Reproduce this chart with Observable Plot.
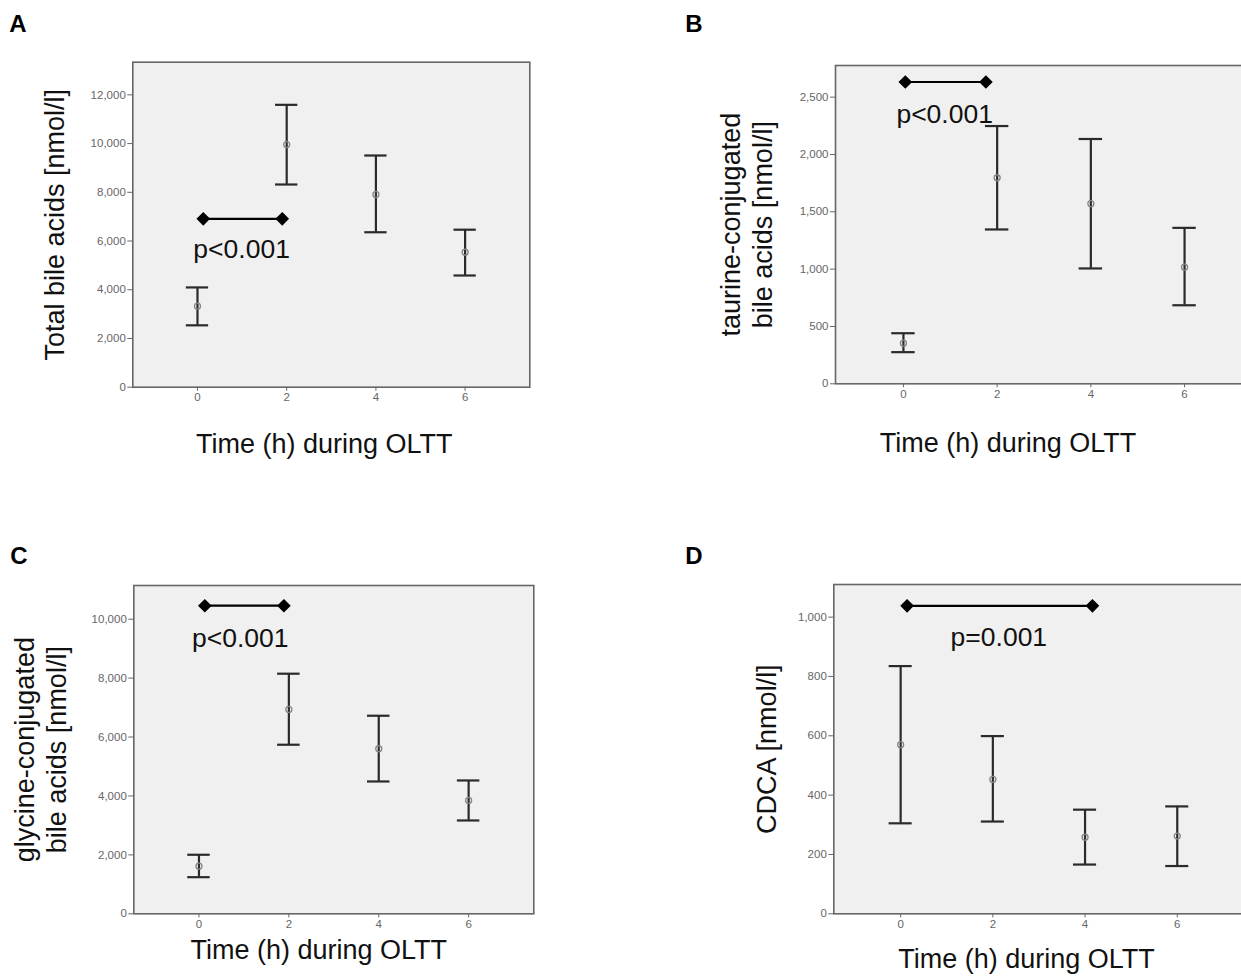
<!DOCTYPE html>
<html>
<head>
<meta charset="utf-8">
<script src="https://cdn.jsdelivr.net/npm/d3@7"></script>
<script src="https://cdn.jsdelivr.net/npm/@observablehq/plot@0.6"></script>
<style>
  html, body { margin: 0; padding: 0; background: #fff; overflow: hidden; }
  #wrap { position: relative; width: 1241px; height: 976px; overflow: hidden; background: #fff; }
  .panel { position: absolute; }
</style>
</head>
<body>
<div id="wrap">
  <div class="panel" id="pA" style="left:0px;top:0px;"></div>
  <div class="panel" id="pB" style="left:620px;top:0px;"></div>
  <div class="panel" id="pC" style="left:0px;top:488px;"></div>
  <div class="panel" id="pD" style="left:620px;top:488px;"></div>
</div>
<script>
// ---- data ----
const times = [0, 2, 4, 6];
const xTicks = [0, 2, 4, 6];

const totalMean = [3325, 9960, 7910, 5540];
const totalLo   = [2540, 8320, 6360, 4585];
const totalHi   = [4095, 11590, 9510, 6465];
const totalTicks = [0, 2000, 4000, 6000, 8000, 10000, 12000];

const tauroMean = [354, 1797, 1571, 1017];
const tauroLo   = [276, 1346, 1006, 685];
const tauroHi   = [441, 2248, 2135, 1360];
const tauroTicks = [0, 500, 1000, 1500, 2000, 2500];

const glycoMean = [1617, 6937, 5603, 3847];
const glycoLo   = [1243, 5739, 4492, 3168];
const glycoHi   = [2004, 8150, 6723, 4526];
const glycoTicks = [0, 2000, 4000, 6000, 8000, 10000];

const cdcaMean = [570, 453, 258, 262];
const cdcaLo   = [305, 311, 166, 161];
const cdcaHi   = [835, 599, 351, 362];
const cdcaTicks = [0, 200, 400, 600, 800, 1000];

// significance brackets (data units)
const bracketFrom  = [0.13, 0.04, 0.13, 0.14];
const bracketTo    = [1.90, 1.76, 1.89, 4.16];
const bracketY     = [6912, 2632, 10458, 1038];
const pLabels      = ["p<0.001", "p<0.001", "p<0.001", "p=0.001"];
const pLabelX      = [0.99, 0.88, 0.92, 2.13];
const pLabelY      = [5650, 2352, 9331, 932];

const yMax = [13340, 2776, 11144, 1110];
const letters = ["A", "B", "C", "D"];
const yTitles = ["Total bile acids [nmol/l]", "taurine-conjugated\nbile acids [nmol/l]",
                 "glycine-conjugated\nbile acids [nmol/l]", "CDCA [nmol/l]"];
const xTitle = "Time (h) during OLTT";

// ---- layout / style ----
const FONT = "'Liberation Sans', Arial, Helvetica, sans-serif";
const CAP = 0.25;
const layouts = [
  {id: "pA", w: 620, h: 488, ml: 132.3, mt: 61.7, mr: 90.7, mb: 101.3,
   letter: [-114.8, -38.2], yt: -79, xt: [-7, 57]},
  {id: "pB", w: 621, h: 488, ml: 215, mt: 65, mr: -11, mb: 104.7,
   letter: [-141.5, -41.5], yt: -90, xt: [-36, 60]},
  {id: "pC", w: 620, h: 488, ml: 133.3, mt: 97, mr: 86.7, mb: 62.7,
   letter: [-114.8, -29], yt: -94, xt: [-15, 37]},
  {id: "pD", w: 621, h: 488, ml: 213.3, mt: 96, mr: -2.6, mb: 62.7,
   letter: [-139.8, -28], yt: -68, xt: [-12.5, 46]}
];
const series = [
  [totalMean, totalLo, totalHi, totalTicks],
  [tauroMean, tauroLo, tauroHi, tauroTicks],
  [glycoMean, glycoLo, glycoHi, glycoTicks],
  [cdcaMean, cdcaLo, cdcaHi, cdcaTicks]
];

layouts.forEach((L, i) => {
  const [means, los, his, yTicks] = series[i];
  const data = times.map((t, j) => ({t, mean: means[j], lo: los[j], hi: his[j]}));
  const br = [{x1: bracketFrom[i], x2: bracketTo[i], y: bracketY[i]}];
  const brEnds = [{x: bracketFrom[i], y: bracketY[i]}, {x: bracketTo[i], y: bracketY[i]}];
  const lab = [{x: pLabelX[i], y: pLabelY[i], text: pLabels[i]}];

  const chart = Plot.plot({
    width: L.w, height: L.h,
    marginLeft: L.ml, marginTop: L.mt, marginRight: L.mr, marginBottom: L.mb,
    style: {background: "transparent", fontFamily: FONT, overflow: "visible"},
    x: {domain: [-1.45, 7.45]},
    y: {domain: [0, yMax[i]]},
    marks: [
      Plot.frame({fill: "#f0f0f0", stroke: null}),
      Plot.axisX({ticks: xTicks, tickSize: 4, tickPadding: 2, fontSize: 11.5, color: "#666", label: null}),
      Plot.axisY({ticks: yTicks, tickFormat: d3.format(","), tickSize: 5, tickPadding: 2, fontSize: 11.5, color: "#666", label: null}),
      Plot.ruleX(data, {x: "t", y1: "lo", y2: "hi", stroke: "#2a2a2a", strokeWidth: 2.2}),
      Plot.ruleY(data, {y: "lo", x1: d => d.t - CAP, x2: d => d.t + CAP, stroke: "#2a2a2a", strokeWidth: 2.2}),
      Plot.ruleY(data, {y: "hi", x1: d => d.t - CAP, x2: d => d.t + CAP, stroke: "#2a2a2a", strokeWidth: 2.2}),
      Plot.dot(data, {x: "t", y: "mean", r: 3, stroke: "#858585", strokeWidth: 1.3, fill: "none"}),
      Plot.ruleY(br, {y: "y", x1: "x1", x2: "x2", stroke: "#000", strokeWidth: 2.2}),
      Plot.dot(brEnds, {x: "x", y: "y", symbol: "diamond2", r: 5.2, fill: "#000", stroke: "#000"}),
      Plot.text(lab, {x: "x", y: "y", text: "text", fontSize: 26.5, fill: "#111"}),
      Plot.frame({stroke: "#666", strokeWidth: 1.6}),
      Plot.text([letters[i]], {text: d => d, frameAnchor: "top-left", dx: L.letter[0], dy: L.letter[1],
        fontSize: 24, fontWeight: "bold", fill: "#000", textAnchor: "middle", lineAnchor: "middle"}),
      Plot.text([yTitles[i]], {text: d => d, frameAnchor: "left", dx: L.yt, rotate: -90,
        fontSize: 27, lineHeight: 1.18, fill: "#111", textAnchor: "middle", lineAnchor: "middle"}),
      Plot.text([xTitle], {text: d => d, frameAnchor: "bottom", dx: L.xt[0], dy: L.xt[1],
        fontSize: 27, fill: "#111", textAnchor: "middle", lineAnchor: "middle"})
    ]
  });
  document.getElementById(L.id).appendChild(chart);
});
</script>
</body>
</html>
